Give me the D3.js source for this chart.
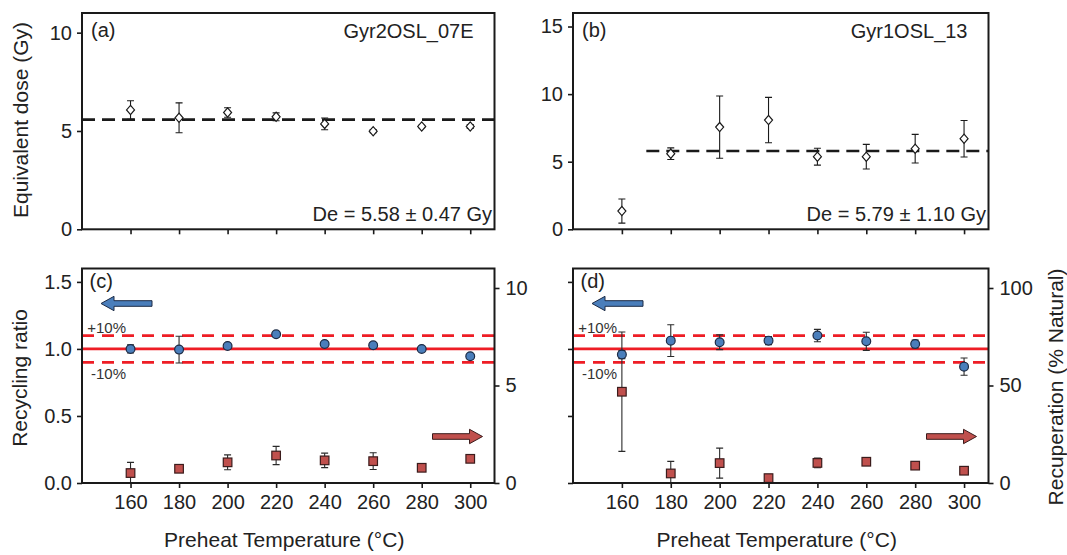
<!DOCTYPE html>
<html>
<head>
<meta charset="utf-8">
<script src="https://cdn.jsdelivr.net/npm/d3@7"></script>
<style>
  html, body { margin: 0; padding: 0; background: #fff; }
  svg { display: block; font-family: "Liberation Sans", Arial, sans-serif; }
</style>
</head>
<body>
<svg id="chart" width="1067" height="555"></svg>
<script>
// Preheat temperatures (°C)
const temps = [160, 180, 200, 220, 240, 260, 280, 300];

// (a) Gyr2OSL_07E equivalent dose (Gy) and 1-sigma errors
const deA = [6.07, 5.67, 5.94, 5.72, 5.36, 4.99, 5.23, 5.23];
const deAErr = [0.47, 0.76, 0.24, 0.20, 0.30, 0.08, 0.06, 0.10];
const meanA = 5.58, sdA = 0.47, meanAFrom = 140;

// (b) Gyr1OSL_13 equivalent dose (Gy)
const deB = [1.35, 5.59, 7.56, 8.08, 5.37, 5.37, 5.96, 6.70];
const deBErr = [0.89, 0.43, 2.30, 1.68, 0.62, 0.91, 1.06, 1.35];
const meanB = 5.79, sdB = 1.10, meanBFrom = 170;

// (c) recycling ratio and recuperation (% natural), Gyr2OSL_07E
const recycC = [1.00, 0.995, 1.022, 1.109, 1.037, 1.027, 1.00, 0.946];
const recycCErr = [0.03, 0.10, 0.01, 0.01, 0.01, 0.02, 0.01, 0.01];
const recupC = [0.51, 0.73, 1.06, 1.41, 1.16, 1.12, 0.78, 1.24];
const recupCErr = [0.55, 0, 0.38, 0.47, 0.37, 0.43, 0, 0];

// (d) recycling ratio and recuperation (% natural), Gyr1OSL_13
const recycD = [0.958, 1.062, 1.05, 1.062, 1.10, 1.057, 1.037, 0.868];
const recycDErr = [0.03, 0.118, 0.055, 0.03, 0.046, 0.068, 0.03, 0.064];
const recupD = [46.8, 4.9, 10.2, 2.5, 10.3, 10.9, 8.9, 6.3];
const recupDErr = [30.6, 6.2, 7.7, 0, 2.5, 1.0, 0.8, 1.0];

// Recycling ratio acceptance band
const recycRef = 1.0, recycBand = 0.1;

// Tick values
const ticksA = [0, 5, 10];
const ticksB = [0, 5, 10, 15];
const ticksRecyc = [0, 0.5, 1.0, 1.5];
const ticksRecupC = [0, 5, 10];
const ticksRecupD = [0, 50, 100];

// Axis domains
const tempDomain = [140, 310];

const FONT = '"Liberation Sans", Arial, sans-serif';
const INK = '#1a1a1a';
const BLUE = '#4a7ebb', BLUE_EDGE = '#1c2b45';
const RED = '#c0504d', RED_EDGE = '#3b1c1c';
const LINE_RED = '#ee1d25';

const svg = d3.select('#chart');
svg.append('rect').attr('width', 1067).attr('height', 555).attr('fill', '#fff');

const colL = { x0: 82, x1: 494.5 }, colR = { x0: 573, x1: 988.5 };
const rowT = { y0: 13, y1: 229.3 }, rowB = { y0: 268.5, y1: 483 };

let clipId = 0;
function makePanel(col, row) {
  const g = svg.append('g');
  const id = 'clip' + (clipId++);
  svg.append('clipPath').attr('id', id).append('rect')
    .attr('x', col.x0).attr('y', row.y0)
    .attr('width', col.x1 - col.x0).attr('height', row.y1 - row.y0);
  const x = d3.scaleLinear().domain(tempDomain).range([col.x0, col.x1]);
  const plot = g.append('g').attr('clip-path', `url(#${id})`);
  return { g, plot, x, col, row };
}

function styleAxis(a) {
  a.attr('font-size', 20).attr('font-family', FONT);
  a.select('.domain').remove();
  a.selectAll('.tick line').attr('stroke', INK).attr('stroke-width', 1.6);
  a.selectAll('.tick text').attr('fill', '#222');
}

function addAxis(p, axis, translate) {
  const a = p.g.append('g').attr('transform', translate).call(axis);
  styleAxis(a);
  return a;
}

function frame(p) {
  p.g.append('rect')
    .attr('x', p.col.x0).attr('y', p.row.y0)
    .attr('width', p.col.x1 - p.col.x0).attr('height', p.row.y1 - p.row.y0)
    .attr('fill', 'none').attr('stroke', INK).attr('stroke-width', 2);
}

function errorBars(layer, x, y, vals, errs, color, cap) {
  const rows = temps.map((t, i) => ({ t, v: vals[i], e: errs[i] })).filter(d => d.e > 0);
  const eg = layer.append('g').attr('stroke', color).attr('stroke-width', 1.1).attr('fill', 'none');
  eg.selectAll('line.v').data(rows).join('line').attr('class', 'v')
    .attr('x1', d => x(d.t)).attr('x2', d => x(d.t))
    .attr('y1', d => y(d.v + d.e)).attr('y2', d => y(d.v - d.e));
  ['+', '-'].forEach(s => {
    eg.selectAll('line.c' + (s === '+' ? 'p' : 'm')).data(rows).join('line')
      .attr('class', 'c' + (s === '+' ? 'p' : 'm'))
      .attr('x1', d => x(d.t) - cap).attr('x2', d => x(d.t) + cap)
      .attr('y1', d => y(s === '+' ? d.v + d.e : d.v - d.e))
      .attr('y2', d => y(s === '+' ? d.v + d.e : d.v - d.e));
  });
}

function diamonds(layer, x, y, vals) {
  layer.append('g').selectAll('path').data(temps.map((t, i) => ({ t, v: vals[i] }))).join('path')
    .attr('transform', d => `translate(${x(d.t)},${y(d.v)})`)
    .attr('d', 'M0,-4.6L4,0L0,4.6L-4,0Z')
    .attr('fill', '#fff').attr('stroke', INK).attr('stroke-width', 1.2);
}

function circles(layer, x, y, vals) {
  layer.append('g').selectAll('circle').data(temps.map((t, i) => ({ t, v: vals[i] }))).join('circle')
    .attr('cx', d => x(d.t)).attr('cy', d => y(d.v)).attr('r', 4.4)
    .attr('fill', BLUE).attr('stroke', BLUE_EDGE).attr('stroke-width', 1.2);
}

function squares(layer, x, y, vals) {
  const s = 8.6;
  layer.append('g').selectAll('rect').data(temps.map((t, i) => ({ t, v: vals[i] }))).join('rect')
    .attr('x', d => x(d.t) - s / 2).attr('y', d => y(d.v) - s / 2)
    .attr('width', s).attr('height', s)
    .attr('fill', RED).attr('stroke', RED_EDGE).attr('stroke-width', 1.2);
}

function blockArrow(layer, xTail, xTip, yc, fill, edge) {
  const dir = Math.sign(xTip - xTail), shaft = 2.8, headLen = 13, headHalf = 7.2;
  const xb = xTip - dir * headLen;
  const path = d3.path();
  path.moveTo(xTail, yc - shaft); path.lineTo(xb, yc - shaft); path.lineTo(xb, yc - headHalf);
  path.lineTo(xTip, yc); path.lineTo(xb, yc + headHalf); path.lineTo(xb, yc + shaft);
  path.lineTo(xTail, yc + shaft); path.closePath();
  layer.append('path').attr('d', path.toString())
    .attr('fill', fill).attr('stroke', edge).attr('stroke-width', 1);
}

function text(layer, x, y, str, opts = {}) {
  return layer.append('text').attr('x', x).attr('y', y).text(str)
    .attr('font-family', FONT).attr('font-size', opts.size || 20)
    .attr('fill', opts.fill || '#222').attr('text-anchor', opts.anchor || 'start');
}

// ---------- Top panels: equivalent dose vs preheat temperature ----------
function dosePanel(col, yDomain, ticks, vals, errs, mean, sd, from, tag, sample) {
  const p = makePanel(col, rowT);
  const y = d3.scaleLinear().domain(yDomain).range([rowT.y1, rowT.y0]);
  // Mean De line
  p.plot.append('line')
    .attr('x1', p.x(from)).attr('x2', p.x(tempDomain[1]))
    .attr('y1', y(mean)).attr('y2', y(mean))
    .attr('stroke', INK).attr('stroke-width', 2.6).attr('stroke-dasharray', '13,7');
  errorBars(p.plot, p.x, y, vals, errs, INK, 3.5);
  diamonds(p.plot, p.x, y, vals);
  addAxis(p, d3.axisLeft(y).tickValues(ticks).tickSize(5).tickPadding(5).tickFormat(d3.format('d')),
    `translate(${col.x0},0)`);
  addAxis(p, d3.axisBottom(p.x).tickValues(temps).tickSize(5).tickFormat(''),
    `translate(0,${rowT.y1})`);
  frame(p);
  text(p.g, col.x0 + 9, rowT.y0 + 24, tag);
  text(p.g, col.x1 - 21, rowT.y0 + 25, sample, { anchor: 'end' });
  text(p.g, col.x1 - 2.5, rowT.y1 - 8,
    `De = ${mean.toFixed(2)} \u00b1 ${sd.toFixed(2)} Gy`, { anchor: 'end' });
  return p;
}

dosePanel(colL, [0, 11], ticksA, deA, deAErr, meanA, sdA, meanAFrom, '(a)', 'Gyr2OSL_07E');
dosePanel(colR, [0, 16], ticksB, deB, deBErr, meanB, sdB, meanBFrom, '(b)', 'Gyr1OSL_13');

// ---------- Bottom panels: recycling ratio (left) and recuperation (right) ----------
function recyclePanel(col, recyc, recycErr, recup, recupErr, recupMax, recupTicks, showLeftLabels, tag) {
  const p = makePanel(col, rowB);
  const yL = d3.scaleLinear().domain([0, 1.6]).range([rowB.y1, rowB.y0]);
  const yR = d3.scaleLinear().domain([0, recupMax]).range([rowB.y1, rowB.y0]);

  // Acceptance band
  [recycRef - recycBand, recycRef + recycBand].forEach(v => {
    p.plot.append('line')
      .attr('x1', col.x0).attr('x2', col.x1).attr('y1', yL(v)).attr('y2', yL(v))
      .attr('stroke', LINE_RED).attr('stroke-width', 2.7).attr('stroke-dasharray', '12,8');
  });
  p.plot.append('line')
    .attr('x1', col.x0).attr('x2', col.x1).attr('y1', yL(recycRef)).attr('y2', yL(recycRef))
    .attr('stroke', LINE_RED).attr('stroke-width', 2.8);

  errorBars(p.plot, p.x, yL, recyc, recycErr, '#2a2a2a', 3.5);
  errorBars(p.plot, p.x, yR, recup, recupErr, '#2a2a2a', 3.5);
  circles(p.plot, p.x, yL, recyc);
  squares(p.plot, p.x, yR, recup);

  text(p.g, col.x0 + 44, yL(recycRef + recycBand) - 3, '+10%', { size: 15, fill: '#333', anchor: 'end' });
  text(p.g, col.x0 + 44, yL(recycRef - recycBand) + 17, '-10%', { size: 15, fill: '#333', anchor: 'end' });

  // Direction arrows pointing at the matching axis
  blockArrow(p.g, col.x0 + 70, col.x0 + 19, rowB.y0 + 35, BLUE, BLUE_EDGE);
  blockArrow(p.g, col.x1 - 62, col.x1 - 12, rowB.y0 + 168, RED, RED_EDGE);

  const left = d3.axisLeft(yL).tickValues(ticksRecyc).tickSize(5).tickPadding(5)
    .tickFormat(showLeftLabels ? d3.format('.1f') : '');
  addAxis(p, left, `translate(${col.x0},0)`);
  addAxis(p, d3.axisRight(yR).tickValues(recupTicks).tickSize(5).tickPadding(6).tickFormat(d3.format('d')),
    `translate(${col.x1},0)`);
  addAxis(p, d3.axisBottom(p.x).tickValues(temps).tickSize(5).tickPadding(7).tickFormat(d3.format('d')),
    `translate(0,${rowB.y1})`);
  frame(p);
  text(p.g, col.x0 + 7.5, rowB.y0 + 19.5, tag);
  text(p.g, (col.x0 + col.x1) / 2 - 4, 547, 'Preheat Temperature (\u00b0C)', { size: 21, anchor: 'middle' });
  return p;
}

recyclePanel(colL, recycC, recycCErr, recupC, recupCErr, 11, ticksRecupC, true, '(c)');
recyclePanel(colR, recycD, recycDErr, recupD, recupDErr, 110, ticksRecupD, false, '(d)');

// ---------- Axis titles ----------
function vTitle(x, y, str) {
  svg.append('text').attr('transform', `translate(${x},${y}) rotate(-90)`)
    .attr('text-anchor', 'middle').attr('font-family', FONT).attr('font-size', 21)
    .attr('fill', '#222').text(str);
}
vTitle(28, 120, 'Equivalent dose (Gy)');
vTitle(26.5, 378, 'Recycling ratio');
vTitle(1063, 387, 'Recuperation (% Natural)');
</script>
</body>
</html>
